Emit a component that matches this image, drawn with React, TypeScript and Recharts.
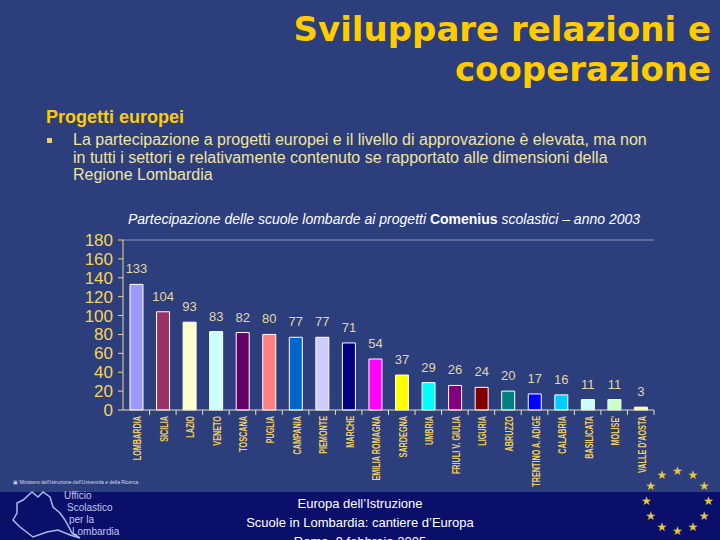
import React from 'react';
import {
  BarChart,
  Bar,
  XAxis,
  YAxis,
  Cell,
  LabelList,
  ReferenceLine,
} from 'recharts';

const regions = [
  'LOMBARDIA', 'SICILIA', 'LAZIO', 'VENETO', 'TOSCANA', 'PUGLIA', 'CAMPANIA',
  'PIEMONTE', 'MARCHE', 'EMILIA ROMAGNA', 'SARDEGNA', 'UMBRIA', 'FRIULI V. GIULIA',
  'LIGURIA', 'ABRUZZO', 'TRENTINO A. ADIGE', 'CALABRIA', 'BASILICATA', "MOLISE'",
  "VALLE D'AOSTA",
];
const projects = [133, 104, 93, 83, 82, 80, 77, 77, 71, 54, 37, 29, 26, 24, 20, 17, 16, 11, 11, 3];
const barColors = [
  '#9999FF', '#993366', '#FFFFCC', '#CCFFFF', '#660066', '#FF8080', '#0066CC',
  '#CCCCFF', '#000080', '#FF00FF', '#FFFF00', '#00FFFF', '#800080', '#800000',
  '#008080', '#0000FF', '#00CCFF', '#CCFFFF', '#CCFFCC', '#FFFF99',
];
const yTicks = [0, 20, 40, 60, 80, 100, 120, 140, 160, 180];

const chartData = regions.map((name, i) => ({ name, value: projects[i], color: barColors[i] }));

const BG = '#2C3E7C';
const YELLOW = '#FFCC00';
const AXIS_TXT = '#F5D35A';
const PLOT_LEFT = 123;
const PLOT_RIGHT_MARGIN = 66;
const HALF_BAND = (720 - PLOT_LEFT - PLOT_RIGHT_MARGIN) / regions.length / 2;

// category labels, condensed like the original narrow font
const XTick = (props: any) => {
  const { x, y, payload } = props;
  return (
    <g>
      <line x1={x + HALF_BAND} x2={x + HALF_BAND} y1={y - 6} y2={y - 1} stroke="#E8E0C0" />
      <text
        transform={`translate(${x},${y}) rotate(-90) scale(0.66,1)`}
        x={0}
        y={0}
        dy={5}
        textAnchor="end"
        fill={AXIS_TXT}
        fontSize={11}
        fontWeight="bold"
        fontFamily="'Liberation Sans', Arial, sans-serif"
      >
        {payload.value}
      </text>
    </g>
  );
};

const Stars = () => {
  const items = [];
  for (let k = 0; k < 12; k++) {
    const a = (k * 30 - 90) * Math.PI / 180;
    items.push(
      <span
        key={k}
        style={{
          position: 'absolute',
          left: 678 + 31 * Math.cos(a) - 6,
          top: 502 + 30 * Math.sin(a) - 8,
          color: '#E8C840',
          fontSize: 12,
          lineHeight: '14px',
          fontFamily: 'DejaVu Sans, sans-serif',
        }}
      >
        ★
      </span>
    );
  }
  return <>{items}</>;
};

export default function App() {
  return (
    <div
      style={{
        position: 'absolute',
        left: 0,
        top: 0,
        width: 720,
        height: 540,
        overflow: 'hidden',
        background: BG,
        fontFamily: "'Liberation Sans', Arial, sans-serif",
      }}
    >
      {/* title */}
      <div
        style={{
          position: 'absolute',
          right: 9,
          top: 9,
          textAlign: 'right',
          color: YELLOW,
          fontFamily: "'DejaVu Sans', Verdana, sans-serif",
          fontWeight: 'bold',
          fontSize: 34,
          lineHeight: '40px',
        }}
      >
        Sviluppare relazioni e
        <br />
        cooperazione
      </div>

      <div
        style={{
          position: 'absolute',
          left: 46,
          top: 107,
          color: YELLOW,
          fontWeight: 'bold',
          fontSize: 18,
        }}
      >
        Progetti europei
      </div>
      <div
        style={{
          position: 'absolute',
          left: 47,
          top: 138,
          width: 5,
          height: 5,
          background: '#E8D070',
        }}
      />
      <div
        style={{
          position: 'absolute',
          left: 73,
          top: 131,
          color: '#F0E4A0',
          fontSize: 16,
          lineHeight: '17.5px',
        }}
      >
        La partecipazione a progetti europei e il livello di approvazione è elevata, ma non
        <br />
        in tutti i settori e relativamente contenuto se rapportato alle dimensioni della
        <br />
        Regione Lombardia
      </div>

      <div
        style={{
          position: 'absolute',
          left: 0,
          width: 768,
          top: 211,
          textAlign: 'center',
          color: '#FFFFFF',
          fontSize: 14,
          fontStyle: 'italic',
        }}
      >
        Partecipazione delle scuole lombarde ai progetti{' '}
        <span style={{ fontStyle: 'normal', fontWeight: 'bold' }}>Comenius</span> scolastici – anno 2003
      </div>

      <div style={{ position: 'absolute', left: 0, top: 230 }}>
        <BarChart
          width={720}
          height={261}
          data={chartData}
          margin={{ top: 10, right: PLOT_RIGHT_MARGIN, bottom: 0, left: 0 }}
          barCategoryGap={0}
        >
          <ReferenceLine y={180} stroke="#9098B8" />
          <XAxis
            dataKey="name"
            interval={0}
            height={81}
            tickSize={0}
            tickMargin={6}
            tick={<XTick />}
            axisLine={{ stroke: '#E8E0C0' }}
          />
          <YAxis
            domain={[0, 180]}
            ticks={yTicks}
            width={PLOT_LEFT}
            tickSize={5}
            tickMargin={5}
            interval={0}
            tick={{ fill: AXIS_TXT, fontSize: 17, fontFamily: "'Liberation Sans', Arial, sans-serif" }}
            tickLine={{ stroke: '#E8D890' }}
            axisLine={{ stroke: '#E8D890' }}
          />
          <YAxis
            yAxisId="frame"
            orientation="right"
            domain={[0, 180]}
            width={0}
            tick={false}
            tickLine={false}
            axisLine={{ stroke: '#9098B8' }}
          />
          <Bar dataKey="value" barSize={13} stroke="#FFFFFF" strokeWidth={1} isAnimationActive={false}>
            {chartData.map((d, i) => (
              <Cell key={`cell-${i}`} fill={d.color} />
            ))}
            <LabelList
              dataKey="value"
              position="top"
              offset={11}
              fill="#E0D8A8"
              fontSize={13}
              fontFamily="'Liberation Sans', Arial, sans-serif"
            />
          </Bar>
        </BarChart>
      </div>

      {/* footer */}
      <div
        style={{
          position: 'absolute',
          left: 0,
          top: 492,
          width: 720,
          height: 48,
          background: '#0A0F6A',
        }}
      />
      <div
        style={{
          position: 'absolute',
          left: 13,
          top: 479,
          color: '#D8DCF0',
          fontSize: 5,
          whiteSpace: 'nowrap',
        }}
      >
        ▣ Ministero dell'Istruzione dell'Università e della Ricerca
      </div>
      <svg style={{ position: 'absolute', left: 0, top: 485 }} width={90} height={55}>
        <path
          d="M17 18 L23 15 L32 7 L38 12 L43 7 L50 12 L53 22 L60 28 L65 35 L72 48 L80 53 L70 50 L58 45 L47 47 L33 52 L20 42 L13 35 L17 28 Z"
          fill="none"
          stroke="#A8B8E8"
          strokeWidth={1.5}
        />
      </svg>
      <div
        style={{
          position: 'absolute',
          left: 64,
          top: 490,
          color: '#C0C8E8',
          fontSize: 10,
          lineHeight: '12px',
        }}
      >
        Ufficio
        <br />
        <span style={{ marginLeft: 3 }}>Scolastico</span>
        <br />
        <span style={{ marginLeft: 5 }}>per la</span>
        <br />
        <span style={{ marginLeft: 8 }}>Lombardia</span>
      </div>
      <div
        style={{
          position: 'absolute',
          left: 0,
          width: 720,
          top: 494,
          textAlign: 'center',
          color: '#FFFFFF',
          fontSize: 13,
          lineHeight: '19px',
        }}
      >
        Europa dell’Istruzione
        <br />
        Scuole in Lombardia: cantiere d’Europa
        <br />
        Roma, 9 febbraio 2005
      </div>
      <Stars />
    </div>
  );
}
